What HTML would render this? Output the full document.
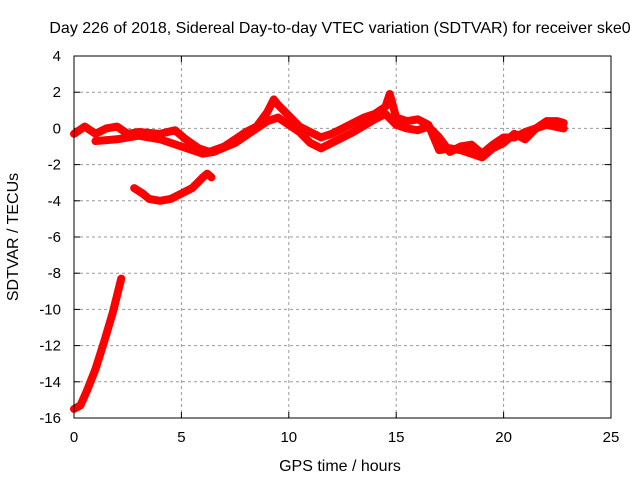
<!DOCTYPE html>
<html><head><meta charset="utf-8"><style>
body{margin:0;background:#fff}
svg{display:block;font-family:"Liberation Sans",sans-serif}
</style></head><body>
<svg id="chart" width="640" height="480">
<text x="340" y="33" text-anchor="middle" font-size="16">Day 226 of 2018, Sidereal Day-to-day VTEC variation (SDTVAR) for receiver ske0</text>
<text x="340" y="471" text-anchor="middle" font-size="16">GPS time / hours</text>
<text transform="translate(18,237) rotate(-90)" text-anchor="middle" font-size="16">SDTVAR / TECUs</text>
<g id="grid"></g><g id="ticks"></g><g id="series"></g>
<rect x="74" y="56" width="537" height="362" fill="none" stroke="#000" stroke-width="1"/>
</svg>
<script>
const xTicks=[0,5,10,15,20,25];
const yTicks=[4,2,0,-2,-4,-6,-8,-10,-12,-14,-16];
const upperHours=[0,0.5,1,1.5,2,2.5,3,4,4.7,5.2,5.8,6.3,7,7.5,8,8.5,9,9.3,9.5,10,10.5,11,11.5,12,12.5,13,13.5,14,14.5,14.7,15,15.5,16,16.5,17,17.5,18,18.5,19,19.5,20,20.5,21,21.5,22,22.5,22.8];
const upperVals=[-0.3,0.1,-0.3,0,0.1,-0.3,-0.2,-0.3,-0.1,-0.6,-1.1,-1.3,-1,-0.6,-0.2,0.1,0.9,1.6,1.3,0.7,0.1,-0.2,-0.5,-0.3,0,0.3,0.6,0.8,1.2,1.9,0.6,0.4,0.5,0.2,-1.2,-1.1,-1.2,-1.4,-1.6,-1.1,-0.8,-0.3,-0.6,0,0.4,0.4,0.3];
const lowerHours=[1,2,3,4,5,6,6.5,7.5,8.5,9,9.5,10,10.5,11,11.5,12,13,14,14.5,15,15.5,16,16.5,17,17.5,18,18.5,19,19.5,20,20.5,21,22,22.8];
const lowerVals=[-0.7,-0.6,-0.4,-0.6,-1,-1.4,-1.3,-0.8,0,0.4,0.6,0.2,-0.2,-0.8,-1.1,-0.8,-0.2,0.5,0.8,0.2,0,-0.1,0.1,-0.5,-1.3,-1,-0.9,-1.4,-0.9,-0.5,-0.5,-0.2,0.2,0];
const dipHours=[2.8,3.2,3.5,4,4.5,5,5.5,6,6.2,6.4];
const dipVals=[-3.3,-3.6,-3.9,-4,-3.9,-3.6,-3.3,-2.7,-2.5,-2.7];
const startHours=[0,0.3,0.6,1,1.4,1.8,2.2];
const startVals=[-15.5,-15.3,-14.5,-13.3,-11.8,-10.2,-8.3];
const NS="http://www.w3.org/2000/svg";
const X=v=>74+v*(537/25), Y=v=>56+(4-v)*(362/20);
const grid=document.getElementById('grid'),ticks=document.getElementById('ticks'),ser=document.getElementById('series');
function mk(tag,attrs,parent){const e=document.createElementNS(NS,tag);for(const k in attrs)e.setAttribute(k,attrs[k]);parent.appendChild(e);return e;}
xTicks.forEach(t=>{const x=X(t);
 if(t>0&&t<25){const g=mk('line',{x1:x,x2:x,y1:56,y2:418,stroke:'#999','stroke-dasharray':'3,3'},grid);
 
 }
 mk('line',{x1:x,x2:x,y1:418,y2:412,stroke:'#000'},ticks);mk('line',{x1:x,x2:x,y1:56,y2:62,stroke:'#000'},ticks);
 const tx=mk('text',{x:x,y:442,'text-anchor':'middle','font-size':15},ticks);tx.textContent=t;
 
 });
yTicks.forEach(t=>{const y=Y(t);
 if(t<4&&t>-16){const g=mk('line',{x1:74,x2:611,y1:y,y2:y,stroke:'#999','stroke-dasharray':'3,3'},grid);
 
 }
 mk('line',{x1:74,x2:80,y1:y,y2:y,stroke:'#000'},ticks);mk('line',{x1:605,x2:611,y1:y,y2:y,stroke:'#000'},ticks);
 const tx=mk('text',{x:61,y:y+5,'text-anchor':'end','font-size':15},ticks);tx.textContent=t;
 
 });
function line(hs,vs,name){const p=mk('polyline',{points:hs.map((h,i)=>X(h)+','+Y(vs[i])).join(' '),fill:'none',stroke:'#f00','stroke-width':8,'stroke-linejoin':'round','stroke-linecap':'round'},ser);
 
 }
line(upperHours,upperVals,'sdtvar-upper-track');
line(lowerHours,lowerVals,'sdtvar-lower-track');
line(dipHours,dipVals,'sdtvar-dip-track');
line(startHours,startVals,'sdtvar-start-track');
</script>
</body></html>
